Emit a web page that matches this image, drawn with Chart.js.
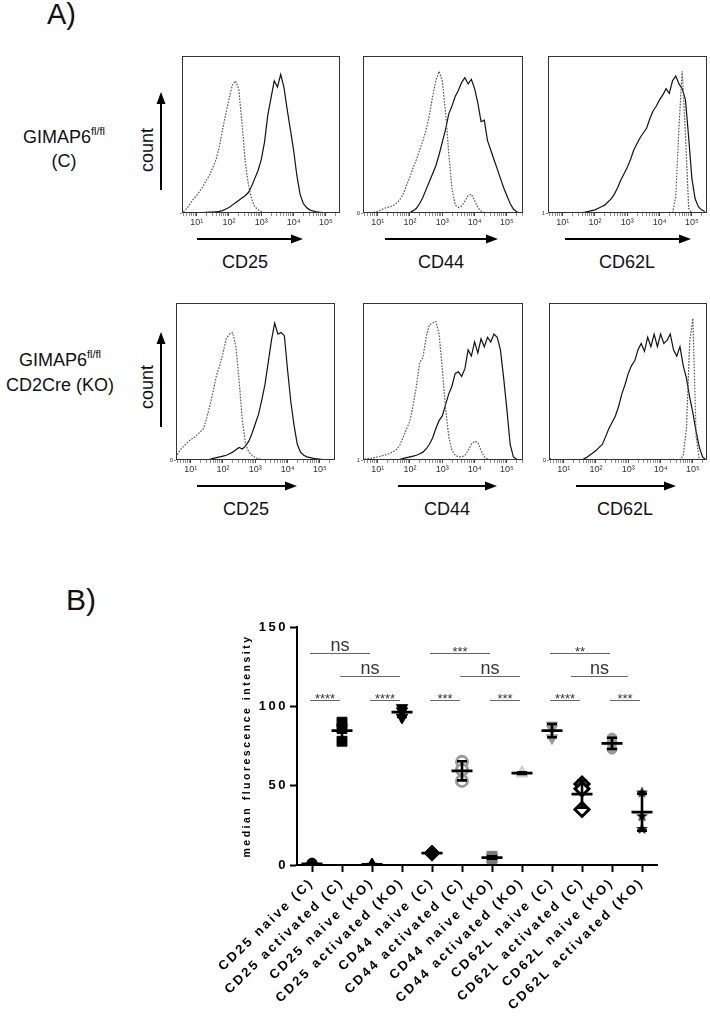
<!DOCTYPE html>
<html>
<head>
<meta charset="utf-8">
<script src="https://cdn.jsdelivr.net/npm/chart.js@4.4.0/dist/chart.umd.min.js"></script>
<style>
  body { margin: 0; width: 710px; height: 1020px; position: relative; overflow: hidden; background: #fff;
         font-family: "Liberation Sans", Arial, sans-serif; }
  canvas { position: absolute; }
  svg { position: absolute; left: 0; top: 0; }
  svg text { font-family: "Liberation Sans", Arial, sans-serif; fill: #111; }
</style>
</head>
<body>
<svg width="710" height="1020">
  <!-- panel letters -->
  <text x="47" y="24" font-size="29">A)</text>
  <text x="66" y="610" font-size="30">B)</text>

  <!-- row labels -->
  <text x="64" y="143" font-size="18" text-anchor="middle">GIMAP6<tspan font-size="11" dy="-8">fl/fl</tspan></text>
  <text x="64" y="167" font-size="18" text-anchor="middle">(C)</text>
  <text x="60" y="366" font-size="18" text-anchor="middle">GIMAP6<tspan font-size="11" dy="-8">fl/fl</tspan></text>
  <text x="60" y="391" font-size="18" text-anchor="middle">CD2Cre (KO)</text>

  <!-- count arrows -->
  <text transform="translate(153,150) rotate(-90)" font-size="18" text-anchor="middle">count</text>
  <line x1="161" y1="190" x2="161" y2="102" stroke="#000" stroke-width="2"/>
  <polygon points="161,92 156.5,104 165.5,104" fill="#000"/>
  <text transform="translate(153,387) rotate(-90)" font-size="18" text-anchor="middle">count</text>
  <line x1="161" y1="427" x2="161" y2="342" stroke="#000" stroke-width="2"/>
  <polygon points="161,332 156.5,344 165.5,344" fill="#000"/>

  <!-- marker arrows, top row -->
  <line x1="197" y1="239" x2="292" y2="239" stroke="#000" stroke-width="2"/>
  <polygon points="303,239 291,234.5 291,243.5" fill="#000"/>
  <text x="245" y="268" font-size="18" text-anchor="middle">CD25</text>
  <line x1="385" y1="239" x2="487" y2="239" stroke="#000" stroke-width="2"/>
  <polygon points="498,239 486,234.5 486,243.5" fill="#000"/>
  <text x="441" y="268" font-size="18" text-anchor="middle">CD44</text>
  <line x1="565" y1="239" x2="680" y2="239" stroke="#000" stroke-width="2"/>
  <polygon points="691,239 679,234.5 679,243.5" fill="#000"/>
  <text x="627" y="268" font-size="18" text-anchor="middle">CD62L</text>

  <!-- marker arrows, bottom row -->
  <line x1="197" y1="486" x2="286" y2="486" stroke="#000" stroke-width="2"/>
  <polygon points="297,486 285,481.5 285,490.5" fill="#000"/>
  <text x="246" y="515" font-size="18" text-anchor="middle">CD25</text>
  <line x1="398" y1="486" x2="486" y2="486" stroke="#000" stroke-width="2"/>
  <polygon points="497,486 485,481.5 485,490.5" fill="#000"/>
  <text x="447" y="515" font-size="18" text-anchor="middle">CD44</text>
  <line x1="576" y1="486" x2="665" y2="486" stroke="#000" stroke-width="2"/>
  <polygon points="676,486 664,481.5 664,490.5" fill="#000"/>
  <text x="625" y="515" font-size="18" text-anchor="middle">CD62L</text>
</svg>

<canvas id="h0"></canvas>
<canvas id="h1"></canvas>
<canvas id="h2"></canvas>
<canvas id="h3"></canvas>
<canvas id="h4"></canvas>
<canvas id="h5"></canvas>
<canvas id="mfi"></canvas>

<script>
// ---- panel A data: histogram heights (% of panel) read at log10(fluorescence) steps ----
const logX = [0.5, 0.6, 0.7, 0.8, 0.9, 1.0, 1.1, 1.2, 1.3, 1.4,
              1.5, 1.6, 1.7, 1.8, 1.9, 2.0, 2.1, 2.2, 2.3, 2.4,
              2.5, 2.6, 2.7, 2.8, 2.9, 3.0, 3.1, 3.2, 3.3, 3.4,
              3.5, 3.6, 3.7, 3.8, 3.9, 4.0, 4.1, 4.2, 4.3, 4.4,
              4.5, 4.6, 4.7, 4.8, 4.9, 5.0, 5.1, 5.2, 5.3, 5.4];

// control (C)
const cd25NaiveC = [0, 1, 3, 6, 9, 11, 14, 17, 21, 24,
                    29, 34, 42, 53, 63, 72, 81, 84, 79, 58,
                    33, 18, 9, 4, 2, 1, 0, 0, 0, 0,
                    0, 0, 0, 0, 0, 0, 0, 0, 0, 0,
                    0, 0, 0, 0, 0, 0, 0, 0, 0, 0];
const cd25ActC = [0, 0, 0, 0, 0, 0, 0, 0.3, 0.4, 0.5,
                  0.6, 0.8, 1, 1.5, 2.5, 3.5, 5, 6.5, 8, 9.5,
                  11, 13, 17, 22, 27, 34, 45, 62, 73, 84,
                  80, 88, 80, 66, 53, 40, 24, 12, 6, 3.5,
                  2, 1.3, 0.8, 0.5, 0.3, 0.2, 0, 0, 0, 0];
const cd44NaiveC = [0, 0, 0, 0, 0.5, 1, 2, 3, 3.5, 4,
                    5, 6.5, 9, 12.5, 18, 23, 29, 34, 40, 46,
                    53, 62, 74, 84, 90, 84, 64, 38, 15, 5,
                    3.5, 4.5, 7.5, 11, 12, 8, 3.5, 1.2, 0.3, 0,
                    0, 0, 0, 0, 0, 0, 0, 0, 0, 0];
const cd44ActC = [0, 0, 0, 0, 0, 0, 0, 0, 0, 0,
                  0, 0, 0, 0, 0, 0.3, 1.5, 3, 6, 10,
                  15, 20, 25, 30, 37, 45, 53, 63, 68, 74,
                  78, 83, 86, 82, 85, 79, 70, 58, 59, 46,
                  40, 34, 28, 22, 16, 11, 6, 2.5, 0.8, 0];
const cd62lNaiveC = [0, 0, 0, 0, 0, 0, 0, 0, 0, 0,
                     0, 0, 0, 0, 0, 0, 0, 0, 0, 0,
                     0, 0, 0, 0, 0, 0, 0, 0, 0, 0,
                     0, 0, 0, 0, 0, 0, 0, 0, 0, 0,
                     10, 55, 90, 50, 3, 0, 0, 0, 0, 0];
const cd62lActC = [0, 0, 0, 0, 0, 0, 0, 0, 0, 0,
                   0, 0.3, 0.6, 1, 1.5, 2, 3, 4, 5, 7,
                   9, 12, 16, 21, 25, 29, 34, 40, 44, 48,
                   51, 54, 60, 65, 68, 72, 75, 79, 76, 84,
                   87, 82, 79, 72, 48, 22, 9, 4, 2, 1];

// knockout (KO)
const cd25NaiveKO = [0, 4, 7, 9, 11, 13, 14, 16, 18, 20,
                     27, 35, 44, 54, 60, 68, 77, 80, 81, 72,
                     50, 25, 10, 5, 3, 1.5, 0.8, 0.3, 0, 0,
                     0, 0, 0, 0, 0, 0, 0, 0, 0, 0,
                     0, 0, 0, 0, 0, 0, 0, 0, 0, 0];
const cd25ActKO = [0, 0, 0, 0, 0, 0, 0, 0, 0, 0,
                   0, 0.5, 1, 1.5, 2, 2.5, 3, 4, 5, 6.5,
                   8, 7, 9, 12, 17, 23, 29, 38, 48, 62,
                   76, 87, 80, 81, 79, 57, 37, 22, 10, 5,
                   3, 2, 1.5, 1, 0.8, 0.5, 0.3, 0, 0, 0];
const cd44NaiveKO = [0, 0.5, 1, 1, 1.5, 2, 2.5, 3, 3.5, 4.5,
                     5.5, 7, 10, 15, 20, 25, 35, 47, 62, 65,
                     78, 86, 87, 88, 80, 58, 33, 15, 6, 3,
                     2, 2, 3, 6, 10, 12, 11, 6, 2, 0.5,
                     0, 0, 0, 0, 0, 0, 0, 0, 0, 0];
const cd44ActKO = [0, 0, 0, 0, 0, 0, 0, 0, 0, 0,
                   0, 0, 0.5, 1, 1.5, 2, 2.5, 3, 4, 5,
                   7, 10, 14, 20, 25, 28, 35, 42, 47, 55,
                   56, 53, 58, 70, 66, 75, 68, 77, 72, 78,
                   75, 80, 78, 70, 52, 32, 10, 2, 0.5, 0];
const cd62lNaiveKO = [0, 0, 0, 0, 0, 0, 0, 0, 0, 0,
                      0, 0, 0, 0, 0, 0, 0, 0, 0, 0,
                      0, 0, 0, 0, 0, 0, 0, 0, 0, 0,
                      0, 0, 0, 0, 0, 0, 0, 0, 0, 0,
                      0, 0, 3, 20, 75, 90, 15, 0, 0, 0];
const cd62lActKO = [2, 0.5, 0, 0, 0, 0, 0, 0, 0, 0,
                    0, 0.5, 1.5, 3, 4.5, 6, 8, 10, 15, 20,
                    24, 28, 34, 42, 48, 55, 60, 63, 70, 74,
                    69, 78, 72, 80, 72, 80, 74, 76, 80, 70,
                    66, 72, 60, 52, 40, 30, 18, 8, 2, 0];

const dottedCurves = [cd25NaiveC, cd44NaiveC, cd62lNaiveC, cd25NaiveKO, cd44NaiveKO, cd62lNaiveKO];
const solidCurves = [cd25ActC, cd44ActC, cd62lActC, cd25ActKO, cd44ActKO, cd62lActKO];
const zeroLabels = ['', '0', '1', '0', '1', '0'];
const decades = [1, 10, 100, 1000, 10000, 100000];
const sup = ['\u2070', '\u00b9', '\u00b2', '\u00b3', '\u2074', '\u2075'];

// ---- panel B data: median fluorescence intensity, 3 mice per group ----
const groupLabels = ['CD25 naive (C)', 'CD25 activated (C)', 'CD25 naive (KO)', 'CD25 activated (KO)',
                     'CD44 naive (C)', 'CD44 activated (C)', 'CD44 naive (KO)', 'CD44 activated (KO)',
                     'CD62L naive (C)', 'CD62L activated (C)', 'CD62L naive (KO)', 'CD62L activated (KO)'];
const groupValues = [[0.8, 0.5, 1.2], [90, 86, 78], [0.4, 0.2, 0.6], [99, 97, 93],
                     [8.5, 7.5, 6.5], [65, 60, 53], [5.5, 4.5, 4], [58.5, 57.5, 57.8],
                     [88, 86, 80], [51, 48, 35], [80, 77, 73], [46, 31, 23]];
// significance brackets: from group, to group, height, label
const sigFrom = [0, 2, 4, 6, 8, 10, 0, 4, 8, 1, 5, 8.7];
const sigTo   = [1, 3, 5, 7, 9, 11, 2, 6, 10, 3, 7, 10.6];
const sigAt   = [104, 104, 104, 104, 104, 104, 133.4, 133.4, 133.4, 119.4, 119.4, 119.4];
const sigText = ['****', '****', '***', '***', '****', '***', 'ns', '***', '**', 'ns', 'ns', 'ns'];

// ---- layout of the six histogram frames ----
const boxes = [
  {left: 182, top: 53, w: 158, h: 160},
  {left: 363, top: 53, w: 160, h: 160},
  {left: 548, top: 53, w: 159, h: 160},
  {left: 176, top: 300, w: 159, h: 160},
  {left: 363, top: 300, w: 160, h: 160},
  {left: 549, top: 300, w: 158, h: 160}
];

const frame = {
  id: 'frame',
  afterDraw(chart) {
    const a = chart.chartArea, ctx = chart.ctx;
    ctx.save();
    ctx.strokeStyle = '#333';
    ctx.lineWidth = 1;
    ctx.strokeRect(Math.round(a.left) + 0.5, Math.round(a.top) + 0.5,
                   Math.round(a.right - a.left) - 1, Math.round(a.bottom - a.top) - 1);
    ctx.restore();
  }
};

function histogram(i) {
  const box = boxes[i];
  const cv = document.getElementById('h' + i);
  cv.width = box.w + 15;
  cv.height = box.h + 22;
  cv.style.left = (box.left - 12) + 'px';
  cv.style.top = (box.top - 2) + 'px';
  const xmin = Math.pow(10, 0.545), xmax = Math.pow(10, 0.545 + box.w / 32.3);

  new Chart(cv, {
    type: 'line',
    data: {
      datasets: [
        { data: logX.map((e, k) => ({x: Math.pow(10, e), y: dottedCurves[i][k]})),
          borderColor: '#555', borderWidth: 1.2, borderDash: [1.6, 1.4], pointRadius: 0, tension: 0 },
        { data: logX.map((e, k) => ({x: Math.pow(10, e), y: solidCurves[i][k]})),
          borderColor: '#111', borderWidth: 1.2, pointRadius: 0, tension: 0 }
      ]
    },
    options: {
      responsive: false,
      animation: false,
      layout: { autoPadding: false, padding: {top: 2, right: 3, left: 0, bottom: 0} },
      plugins: { legend: {display: false}, tooltip: {enabled: false} },
      scales: {
        x: {
          type: 'logarithmic', bounds: 'data', min: xmin, max: xmax,
          afterBuildTicks: s => {
            const out = [];
            decades.forEach(d => {
              for (let m = 1; m <= 9; m++) {
                const v = m * d;
                if (v >= xmin && v <= xmax) out.push({value: v, major: m === 1});
              }
            });
            s.ticks = out;
          },
          afterFit: s => { s.height = 20; },
          border: {display: false},
          grid: { drawOnChartArea: false, tickLength: 3, tickColor: '#444',
                  tickWidth: c => (c.tick && c.tick.major) ? 1 : 0.6 },
          ticks: {
            autoSkip: false, maxRotation: 0, minRotation: 0, padding: 1, color: '#333',
            font: {family: 'Liberation Sans', size: 9},
            callback: (v, k, t) => t[k].major ? '10' + sup[decades.indexOf(v)] : ''
          }
        },
        y: {
          min: 0, max: 100,
          afterBuildTicks: s => { s.ticks = [{value: 0}]; },
          afterFit: s => { s.width = 12; },
          border: {display: false},
          grid: { drawOnChartArea: false, tickLength: 2, tickColor: '#444', tickWidth: 0.6 },
          ticks: { padding: 1, color: '#333', font: {family: 'Liberation Sans', size: 6},
                   callback: () => zeroLabels[i] }
        }
      }
    },
    plugins: [frame]
  });
}

for (let i = 0; i < 6; i++) histogram(i);

// ---- panel B ----
// filled five-point star marker
const starImg = document.createElement('canvas');
starImg.width = 13; starImg.height = 13;
(function () {
  const sc = starImg.getContext('2d');
  sc.beginPath();
  for (let k = 0; k < 10; k++) {
    const r = k % 2 ? 2.5 : 6.2, a = -Math.PI / 2 + k * Math.PI / 5;
    sc.lineTo(6.5 + r * Math.cos(a), 7 + r * Math.sin(a));
  }
  sc.closePath();
  sc.fillStyle = '#000';
  sc.fill();
})();

const groupStyles = [
  {ps: 'circle', r: 5, bg: '#000', bc: '#000', bw: 1},
  {ps: 'rect', r: 7, bg: '#000', bc: '#000', bw: 1},
  {ps: 'triangle', r: 6, bg: '#000', bc: '#000', bw: 1},
  {ps: 'triangle', rot: 180, r: 6.5, bg: '#000', bc: '#000', bw: 1},
  {ps: 'rectRot', r: 6.5, bg: '#000', bc: '#000', bw: 1},
  {ps: 'circle', r: 5.5, bg: '#fff', bc: '#9a9a9a', bw: 3},
  {ps: 'rect', r: 7, bg: '#7a7a7a', bc: '#7a7a7a', bw: 1},
  {ps: 'triangle', r: 6.5, bg: '#d0d0d0', bc: '#d0d0d0', bw: 1},
  {ps: 'triangle', rot: 180, r: 6.5, bg: '#9a9a9a', bc: '#9a9a9a', bw: 1},
  {ps: 'rectRot', r: 7, bg: '#fff', bc: '#000', bw: 3},
  {ps: 'circle', r: 5, bg: '#9a9a9a', bc: '#9a9a9a', bw: 1},
  {ps: starImg, r: 6, bg: '#000', bc: '#000', bw: 1}
];

const spaced = {
  id: 'spaced',
  beforeLayout(chart) { chart.ctx.letterSpacing = '2.5px'; },
  beforeDraw(chart) { chart.ctx.letterSpacing = '2.5px'; }
};

const meanSd = {
  id: 'meanSd',
  afterDatasetsDraw(chart) {
    const {ctx, scales: {x, y}} = chart;
    ctx.save();
    ctx.strokeStyle = '#000';
    ctx.lineWidth = 2.6;
    groupValues.forEach((vals, i) => {
      const n = vals.length;
      const m = vals.reduce((a, b) => a + b, 0) / n;
      const sd = Math.sqrt(vals.reduce((a, b) => a + (b - m) * (b - m), 0) / (n - 1));
      const cx = x.getPixelForValue(i);
      const yt = y.getPixelForValue(m + sd), yb = y.getPixelForValue(m - sd), ym = y.getPixelForValue(m);
      ctx.beginPath();
      ctx.moveTo(cx - 10.5, ym); ctx.lineTo(cx + 10.5, ym);
      ctx.moveTo(cx, yt); ctx.lineTo(cx, yb);
      ctx.moveTo(cx - 5, yt); ctx.lineTo(cx + 5, yt);
      ctx.moveTo(cx - 5, yb); ctx.lineTo(cx + 5, yb);
      ctx.stroke();
    });
    ctx.restore();
  }
};

const brackets = {
  id: 'brackets',
  afterDraw(chart) {
    const {ctx, scales: {x, y}} = chart;
    ctx.save();
    ctx.letterSpacing = '0px';
    ctx.strokeStyle = '#666';
    ctx.fillStyle = '#333';
    ctx.lineWidth = 1;
    ctx.textAlign = 'center';
    ctx.textBaseline = 'alphabetic';
    sigText.forEach((t, k) => {
      const x1 = x.getPixelForValue(sigFrom[k]), x2 = x.getPixelForValue(sigTo[k]);
      const yy = Math.round(y.getPixelForValue(sigAt[k])) + 0.5;
      ctx.beginPath();
      ctx.moveTo(x1 - 2, yy); ctx.lineTo(x2 - 2, yy);
      ctx.stroke();
      if (t === 'ns') {
        ctx.font = '18px "Liberation Sans"';
        ctx.fillText(t, (x1 + x2) / 2 - 2, yy - 2.5);
      } else {
        ctx.font = '13px "Liberation Sans"';
        ctx.fillText(t, (x1 + x2) / 2 - 2, yy + 2);
      }
    });
    ctx.restore();
  }
};

const mfiCanvas = document.getElementById('mfi');
mfiCanvas.width = 505;
mfiCanvas.height = 420;
mfiCanvas.style.left = '200px';
mfiCanvas.style.top = '600px';

new Chart(mfiCanvas, {
  type: 'scatter',
  data: {
    datasets: groupValues.map((vals, i) => ({
      data: vals.map(v => ({x: groupLabels[i], y: v})),
      pointStyle: groupStyles[i].ps,
      rotation: groupStyles[i].rot || 0,
      pointRadius: groupStyles[i].r,
      pointBackgroundColor: groupStyles[i].bg,
      pointBorderColor: groupStyles[i].bc,
      pointBorderWidth: groupStyles[i].bw
    }))
  },
  options: {
    responsive: false,
    animation: false,
    layout: { autoPadding: false, padding: {top: 27, right: 48, left: 0, bottom: 0} },
    plugins: { legend: {display: false}, tooltip: {enabled: false} },
    scales: {
      x: {
        type: 'category', labels: groupLabels, offset: true,
        afterFit: s => { s.height = 155; },
        border: {color: '#000', width: 2},
        grid: { drawOnChartArea: false, offset: false, tickLength: 7, tickWidth: 2, tickColor: '#000' },
        ticks: { autoSkip: false, minRotation: 44, maxRotation: 44, padding: 3, color: '#000',
                 font: {family: 'Liberation Sans', size: 13, weight: 'bold'} }
      },
      y: {
        min: 0, max: 150,
        afterFit: s => { s.width = 97; },
        border: {color: '#000', width: 2},
        grid: { drawOnChartArea: false, tickLength: 7, tickWidth: 2, tickColor: '#000' },
        ticks: { stepSize: 50, padding: 2, color: '#000',
                 font: {family: 'Liberation Sans', size: 13, weight: 'bold'} },
        title: { display: true, text: 'median fluorescence intensity', color: '#000',
                 padding: {top: 41, bottom: 0},
                 font: {family: 'Liberation Sans', size: 10.5, weight: 'bold'} }
      }
    }
  },
  plugins: [spaced, meanSd, brackets]
});
</script>
</body>
</html>
